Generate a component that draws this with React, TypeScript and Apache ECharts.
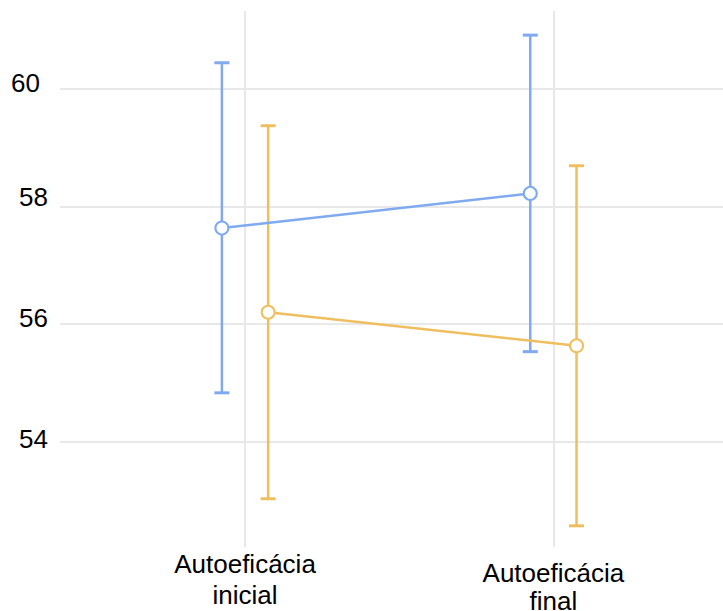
import React, { useEffect, useRef } from 'react';
import * as echarts from 'echarts';

const categories = ['Autoeficácia\ninicial', 'Autoeficácia\nfinal'];
const catPos = [0, 1];
const yTicks = [54, 56, 58, 60];
const blueMean = [57.63, 58.22];
const blueLow = [54.83, 55.53];
const blueHigh = [60.44, 60.91];
const orangeMean = [56.2, 55.63];
const orangeLow = [53.03, 52.57];
const orangeHigh = [59.37, 58.69];
const dodge = 0.075;

const BLUE = '#7faaf0';
const ORANGE = '#efbf5f';
const FONT = 'Liberation Sans, Arial, sans-serif';

export default function App() {
  const ref = useRef<HTMLDivElement>(null);
  useEffect(() => {
    const chart = echarts.init(ref.current!, null, { renderer: 'svg' });

    const errRender = (color: string) => (params: any, api: any) => {
      const x = api.value(0);
      const lo = api.coord([x, api.value(1)]);
      const hi = api.coord([x, api.value(2)]);
      const cap = 7.5;
      const style = { stroke: color, lineWidth: 2.5, fill: 'none' };
      return {
        type: 'group',
        children: [
          { type: 'line', shape: { x1: lo[0], y1: lo[1], x2: hi[0], y2: hi[1] }, style },
          { type: 'line', shape: { x1: hi[0] - cap, y1: hi[1], x2: hi[0] + cap, y2: hi[1] }, style: { ...style, lineWidth: 3 } },
          { type: 'line', shape: { x1: lo[0] - cap, y1: lo[1], x2: lo[0] + cap, y2: lo[1] }, style: { ...style, lineWidth: 3 } },
        ],
      };
    };

    const blueX = catPos.map((c) => c - dodge);
    const orangeX = catPos.map((c) => c + dodge);

    const yRich: any = {
      y60: { fontSize: 26, fontFamily: FONT, color: '#000', padding: [0, 8, 12, 0] },
      y58: { fontSize: 26, fontFamily: FONT, color: '#000', padding: [0, 0, 18, 0] },
      y56: { fontSize: 26, fontFamily: FONT, color: '#000', padding: [0, 0, 12, 0] },
      y54: { fontSize: 26, fontFamily: FONT, color: '#000', padding: [0, 0, 6, 0] },
    };

    const option: any = {
      animation: false,
      backgroundColor: '#fff',
      grid: { left: 60, right: 0, top: 11, bottom: 64, containLabel: false, outerBoundsMode: 'none' },
      xAxis: [
        {
          type: 'value',
          min: -0.6,
          max: 1.55,
          position: 'bottom',
          axisLine: { show: false },
          axisTick: { show: false, customValues: catPos },
          splitLine: { show: true, lineStyle: { color: '#e8e8e8', width: 2 } },
          axisLabel: {
            customValues: [catPos[0]],
            formatter: () => categories[0],
            fontSize: 26,
            fontFamily: FONT,
            color: '#000',
            lineHeight: 31,
            margin: 1,
            align: 'center',
          },
        },
        {
          type: 'value',
          min: -0.6,
          max: 1.55,
          position: 'bottom',
          axisLine: { show: false },
          axisTick: { show: false, customValues: [catPos[1]] },
          splitLine: { show: false },
          axisLabel: {
            customValues: [catPos[1]],
            formatter: () => categories[1],
            fontSize: 26,
            fontFamily: FONT,
            color: '#000',
            lineHeight: 28,
            margin: 12,
            align: 'center',
          },
        },
      ],
      yAxis: {
        type: 'value',
        min: 52.21,
        max: 61.32,
        axisLine: { show: false },
        axisTick: { show: false, customValues: yTicks },
        splitLine: { show: true, lineStyle: { color: '#e8e8e8', width: 2 } },
        axisLabel: {
          customValues: yTicks,
          formatter: (v: number) => `{y${v}|${v}}`,
          rich: yRich,
          fontSize: 26,
          fontFamily: FONT,
          color: '#000',
          margin: 12,
        },
      },
      series: [
        {
          type: 'custom',
          renderItem: errRender(BLUE),
          data: catPos.map((_, i) => [blueX[i], blueLow[i], blueHigh[i]]),
          encode: { x: 0, y: [1, 2] },
          z: 2,
        },
        {
          type: 'custom',
          renderItem: errRender(ORANGE),
          data: catPos.map((_, i) => [orangeX[i], orangeLow[i], orangeHigh[i]]),
          encode: { x: 0, y: [1, 2] },
          z: 2,
        },
        {
          type: 'line',
          data: catPos.map((_, i) => [blueX[i], blueMean[i]]),
          lineStyle: { color: BLUE, width: 2.5 },
          symbol: 'circle',
          symbolSize: 13,
          itemStyle: { color: '#fff', borderColor: BLUE, borderWidth: 2 },
          z: 3,
        },
        {
          type: 'line',
          data: catPos.map((_, i) => [orangeX[i], orangeMean[i]]),
          lineStyle: { color: ORANGE, width: 2.5 },
          symbol: 'circle',
          symbolSize: 13,
          itemStyle: { color: '#fff', borderColor: ORANGE, borderWidth: 2 },
          z: 3,
        },
      ],
    };
    chart.setOption(option);
    return () => chart.dispose();
  }, []);

  return (
    <div
      ref={ref}
      style={{ position: 'fixed', left: 0, top: 0, width: 723, height: 611, background: '#fff' }}
    />
  );
}
